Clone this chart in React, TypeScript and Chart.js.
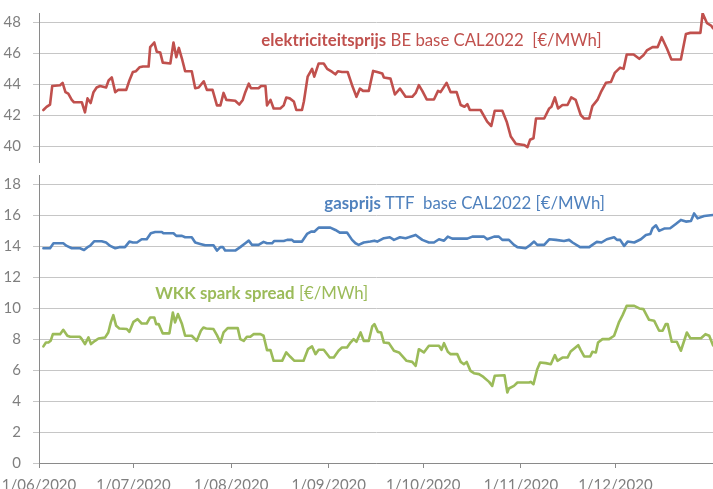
import React, { useEffect, useRef } from 'react';
import { Chart, registerables } from 'chart.js';

Chart.register(...registerables);

// ---- data (x = days since 1/06/2020) ----
const monthTicks = [0, 30, 61, 92, 122, 153, 183, 214];
const monthLabels = ['1/06/2020', '1/07/2020', '1/08/2020', '1/09/2020', '1/10/2020', '1/11/2020', '1/12/2020', ''];
const elecTicks = [40, 42, 44, 46, 48];
const lowerTicks = [0, 2, 4, 6, 8, 10, 12, 14, 16, 18];

const elecDays = [1.4, 2.4, 3.5, 4.2, 6.7, 7.5, 8.4, 9.3, 10.4, 11.1, 13.6, 14.6, 15.4, 16.4, 17.3, 18.3, 19.4, 21.3, 22.1, 23.1, 24.2, 25.2, 27.7, 28.7, 29.8, 30.8, 31.9, 33.0, 34.8, 35.3, 36.6, 37.4, 38.5, 39.3, 41.7, 42.7, 43.6, 44.4, 45.4, 46.4, 48.5, 49.6, 50.7, 52.3, 53.3, 55.1, 56.5, 57.6, 58.6, 59.5, 62.3, 63.6, 64.7, 65.5, 66.6, 67.3, 69.7, 70.5, 71.9, 72.4, 73.5, 74.5, 76.6, 77.7, 78.5, 79.6, 80.9, 81.7, 83.5, 84.1, 85.3, 86.7, 87.4, 88.8, 90.4, 91.5, 93.1, 94.1, 94.9, 96.2, 98.0, 99.4, 100.8, 101.9, 102.9, 104.7, 106.1, 107.4, 109.0, 109.5, 111.6, 113.0, 114.6, 116.4, 118.5, 119.6, 120.6, 121.7, 123.1, 125.4, 126.7, 127.5, 129.4, 130.7, 132.6, 133.9, 135.1, 136.0, 136.8, 140.2, 142.3, 143.6, 144.7, 147.1, 148.5, 149.8, 151.4, 154.0, 155.1, 155.9, 157.0, 157.8, 160.4, 162.0, 162.7, 163.8, 164.8, 166.2, 167.8, 169.0, 170.4, 172.0, 173.1, 174.7, 175.7, 177.3, 178.4, 180.0, 181.6, 182.8, 184.5, 185.6, 186.6, 188.8, 190.6, 191.9, 193.0, 194.8, 196.4, 197.7, 199.4, 200.8, 203.8, 205.4, 206.8, 210.0, 210.7, 212.1, 213.4, 214.0];
const elecValues = [42.35, 42.55, 42.7, 43.9, 43.95, 44.1, 43.5, 43.4, 43.0, 42.85, 42.85, 42.2, 43.1, 42.8, 43.5, 43.8, 43.9, 43.8, 44.25, 44.45, 43.5, 43.65, 43.65, 44.25, 44.8, 44.85, 45.1, 45.15, 45.15, 46.4, 46.7, 46.1, 46.05, 45.4, 45.35, 46.7, 45.75, 46.35, 45.65, 44.85, 44.85, 43.75, 43.8, 44.2, 43.65, 43.65, 42.65, 42.65, 43.45, 43.0, 42.95, 42.7, 43.0, 43.5, 44.05, 43.75, 43.75, 43.9, 43.9, 42.65, 43.0, 42.45, 42.45, 42.65, 43.15, 43.1, 42.9, 42.35, 42.35, 42.9, 44.5, 45.0, 44.5, 45.35, 45.35, 45.0, 44.8, 44.65, 44.85, 44.8, 44.8, 43.95, 43.2, 43.73, 43.58, 43.58, 44.87, 44.8, 44.7, 44.44, 44.37, 43.35, 43.73, 43.2, 43.2, 43.45, 43.95, 43.58, 43.03, 43.03, 43.58, 43.5, 44.1, 43.5, 43.5, 42.67, 42.56, 42.73, 42.35, 42.35, 41.6, 41.32, 42.3, 42.3, 41.6, 40.64, 40.17, 40.1, 39.96, 40.43, 40.53, 41.8, 41.8, 42.45, 42.56, 43.16, 42.45, 42.67, 42.67, 43.16, 43.0, 42.03, 41.8, 41.8, 42.6, 43.0, 43.5, 44.1, 44.16, 44.74, 45.08, 45.0, 45.93, 45.93, 45.65, 45.87, 46.19, 46.4, 46.4, 47.04, 46.3, 45.6, 45.6, 47.25, 47.32, 47.32, 48.58, 47.94, 47.79, 47.62];

const gasDays = [1.4, 3.5, 4.0, 4.6, 7.7, 8.8, 10.4, 13.0, 14.3, 15.4, 16.2, 17.5, 19.9, 21.3, 22.6, 24.2, 25.5, 27.3, 28.7, 29.8, 31.1, 32.6, 34.2, 35.5, 36.9, 39.0, 39.5, 42.7, 43.6, 45.4, 46.4, 48.5, 49.6, 51.2, 52.8, 55.4, 56.5, 57.6, 58.4, 59.1, 62.3, 63.9, 65.5, 66.6, 67.6, 69.7, 71.3, 72.4, 74.0, 74.7, 77.7, 78.8, 80.3, 80.9, 83.5, 85.1, 86.4, 87.4, 88.8, 92.5, 94.1, 95.5, 97.8, 99.4, 100.5, 101.5, 103.1, 105.2, 106.5, 107.4, 109.5, 111.4, 112.7, 114.6, 116.4, 117.4, 119.6, 121.7, 123.8, 125.4, 127.0, 128.6, 129.8, 131.2, 136.0, 137.6, 141.3, 142.3, 144.5, 146.0, 147.1, 149.2, 150.8, 151.9, 154.5, 155.6, 157.2, 158.2, 160.4, 162.0, 164.1, 166.7, 168.3, 169.4, 171.8, 174.7, 175.7, 177.1, 178.6, 180.3, 182.6, 183.5, 184.5, 185.8, 186.9, 189.0, 191.1, 192.7, 194.1, 194.8, 195.9, 196.9, 198.5, 200.4, 202.2, 203.8, 205.4, 207.0, 208.0, 209.1, 211.2, 214.0];
const gasValues = [13.87, 13.87, 14.02, 14.19, 14.19, 14.02, 13.87, 13.87, 13.76, 13.94, 14.02, 14.32, 14.32, 14.24, 14.02, 13.87, 13.94, 13.94, 14.3, 14.24, 14.24, 14.45, 14.45, 14.84, 14.92, 14.92, 14.84, 14.84, 14.67, 14.67, 14.58, 14.58, 14.24, 14.15, 14.06, 14.06, 13.72, 13.94, 13.94, 13.72, 13.72, 13.94, 14.19, 14.36, 14.09, 14.09, 14.28, 14.19, 14.19, 14.34, 14.34, 14.41, 14.41, 14.3, 14.3, 14.79, 14.94, 14.94, 15.2, 15.2, 15.05, 14.88, 14.88, 14.41, 14.19, 14.09, 14.24, 14.3, 14.36, 14.3, 14.52, 14.58, 14.41, 14.58, 14.52, 14.58, 14.73, 14.41, 14.24, 14.24, 14.45, 14.36, 14.62, 14.49, 14.49, 14.62, 14.62, 14.45, 14.62, 14.62, 14.41, 14.41, 14.09, 13.94, 13.87, 14.02, 14.3, 14.09, 14.09, 14.45, 14.41, 14.34, 14.41, 14.24, 13.94, 13.94, 14.09, 14.28, 14.24, 14.45, 14.58, 14.41, 14.41, 14.02, 14.3, 14.24, 14.45, 14.73, 14.79, 15.16, 15.35, 14.99, 15.14, 15.16, 15.44, 15.7, 15.59, 15.63, 16.12, 15.8, 15.95, 16.02];

const wkkDays = [1.4, 2.2, 3.0, 3.7, 4.4, 6.7, 7.7, 9.0, 9.9, 13.0, 13.6, 14.6, 15.7, 16.5, 17.8, 18.9, 21.0, 22.0, 22.8, 23.6, 24.5, 25.5, 27.9, 28.7, 30.0, 31.3, 32.6, 34.2, 35.3, 36.6, 37.2, 38.0, 39.3, 41.4, 42.5, 43.2, 44.1, 45.4, 46.4, 48.5, 50.1, 51.4, 52.2, 53.1, 55.4, 56.5, 57.6, 58.6, 59.9, 63.1, 63.9, 65.0, 66.0, 67.1, 68.1, 70.3, 71.3, 72.4, 73.5, 74.5, 77.2, 78.5, 79.8, 81.1, 84.0, 85.4, 86.7, 87.8, 88.8, 90.4, 92.3, 93.6, 95.1, 96.2, 97.8, 98.9, 99.9, 100.8, 102.1, 103.1, 104.7, 105.8, 106.5, 107.6, 108.6, 109.5, 111.1, 112.7, 114.3, 115.3, 116.7, 118.5, 119.6, 120.6, 122.2, 123.8, 127.0, 127.8, 128.6, 129.8, 130.7, 132.8, 133.9, 134.9, 135.8, 137.0, 138.1, 139.7, 141.1, 142.9, 143.9, 144.7, 147.8, 148.7, 149.2, 150.8, 151.9, 155.6, 156.1, 157.0, 158.2, 159.1, 160.9, 162.5, 163.8, 164.6, 166.2, 167.8, 168.8, 171.2, 172.0, 173.1, 175.0, 175.7, 176.8, 177.5, 178.9, 181.0, 182.6, 184.2, 185.3, 186.6, 189.0, 190.6, 191.9, 193.7, 195.3, 196.9, 198.0, 199.0, 199.6, 200.9, 202.5, 203.8, 205.7, 206.8, 210.2, 211.6, 212.8, 214.0];
const wkkValues = [7.53, 7.78, 7.78, 7.89, 8.32, 8.32, 8.6, 8.22, 8.15, 8.15, 8.0, 7.68, 8.11, 7.68, 7.89, 8.04, 8.11, 8.43, 9.08, 9.55, 8.86, 8.69, 8.65, 8.47, 9.12, 9.29, 9.01, 9.01, 9.4, 9.4, 8.97, 8.97, 8.37, 8.37, 9.72, 9.08, 9.62, 8.97, 8.22, 8.22, 7.89, 8.54, 8.75, 8.69, 8.65, 8.26, 7.78, 8.43, 8.71, 8.71, 8.0, 7.89, 8.15, 8.15, 8.32, 8.32, 8.22, 7.29, 7.29, 6.6, 6.6, 7.14, 6.86, 6.6, 6.6, 7.35, 7.53, 7.03, 7.31, 7.31, 6.81, 6.81, 7.25, 7.46, 7.46, 7.78, 8.0, 7.83, 8.43, 7.89, 7.89, 8.82, 8.97, 8.47, 8.43, 7.78, 7.74, 7.25, 7.14, 6.92, 6.6, 6.53, 6.28, 7.35, 7.14, 7.57, 7.57, 7.31, 7.74, 7.18, 7.03, 7.03, 6.53, 6.38, 6.53, 5.95, 5.8, 5.74, 5.56, 5.24, 4.98, 5.63, 5.67, 4.55, 4.81, 4.98, 5.2, 5.2, 5.24, 5.09, 6.06, 6.49, 6.45, 6.38, 6.97, 6.6, 6.81, 6.81, 7.2, 7.61, 7.29, 6.88, 6.88, 7.18, 7.14, 7.78, 8.0, 8.0, 8.22, 9.12, 9.55, 10.15, 10.15, 9.98, 9.94, 9.25, 9.19, 8.54, 8.54, 8.97, 8.97, 7.83, 7.83, 7.25, 8.43, 8.06, 8.06, 8.32, 8.22, 7.6];

// ---- styling ----
const FONT = 'Lato, "Open Sans", sans-serif';
const RED = '#C0504D';
const BLUE = '#4F81BD';
const GREEN = '#9BBB59';
const GRID = '#c6c6c6';
const AXIS = '#8a8a8a';
const TICK_TEXT = '#7f7f7f';

type Part = { text: string; bold?: boolean };
type Label = { x: number; y: number; color: string; parts: Part[] };

const labelPlugin = {
  id: 'seriesLabels',
  afterDatasetsDraw(chart: any, _args: any, opts: any) {
    const items: Label[] = (opts && opts.items) || [];
    const ctx = chart.ctx;
    ctx.save();
    for (const it of items) {
      let cx = chart.scales.x.getPixelForValue(it.x);
      const cy = chart.scales.y.getPixelForValue(it.y);
      ctx.fillStyle = it.color;
      ctx.textBaseline = 'middle';
      ctx.textAlign = 'left';
      for (const p of it.parts) {
        ctx.font = `${p.bold ? 'bold ' : ''}16.8px ${FONT}`;
        ctx.fillText(p.text, cx, cy);
        cx += ctx.measureText(p.text).width;
      }
    }
    ctx.restore();
  },
};

const toPoints = (xs: number[], ys: number[]) => xs.map((x, i) => ({ x, y: ys[i] }));

const lineDs = (label: string, xs: number[], ys: number[], color: string) => ({
  label,
  data: toPoints(xs, ys),
  borderColor: color,
  backgroundColor: color,
  borderWidth: 2.6,
  pointRadius: 0,
  tension: 0,
  borderJoinStyle: 'round' as const,
  borderCapStyle: 'round' as const,
});

const yAxis = (min: number, max: number, ticks: number[]) => ({
  type: 'linear' as const,
  min,
  max,
  afterBuildTicks: (scale: any) => {
    scale.ticks = ticks.map((v) => ({ value: v }));
  },
  afterFit: (scale: any) => {
    scale.width = 39;
    scale.paddingTop = 0;
    scale.paddingBottom = 0;
  },
  grid: { color: GRID, lineWidth: 1, tickLength: 6, tickColor: GRID },
  border: { color: AXIS, width: 1 },
  ticks: {
    padding: 12,
    color: TICK_TEXT,
    font: { family: FONT, size: 15 },
  },
});

export default function App() {
  const topRef = useRef<HTMLCanvasElement>(null);
  const botRef = useRef<HTMLCanvasElement>(null);

  useEffect(() => {
    document.body.style.margin = '0';
    const top = new Chart(topRef.current as HTMLCanvasElement, {
      type: 'line',
      data: { datasets: [lineDs('elektriciteitsprijs', elecDays, elecValues, RED)] },
      plugins: [labelPlugin],
      options: {
        responsive: false,
        animation: false,
        layout: { padding: { top: 13, bottom: 13, left: 0, right: -3 } },
        scales: {
          x: {
            type: 'linear',
            min: 0,
            max: 214,
            display: false,
            afterFit: (scale: any) => {
              scale.paddingLeft = 0;
              scale.paddingRight = 0;
            },
          },
          y: yAxis(39, 48.6, elecTicks),
        },
        plugins: {
          legend: { display: false },
          tooltip: { enabled: false },
          seriesLabels: {
            items: [
              {
                x: 70.6,
                y: 46.83,
                color: RED,
                parts: [{ text: 'elektriciteitsprijs', bold: true }, { text: ' BE base CAL2022  [€/MWh]' }],
              },
            ],
          },
        } as any,
      },
    });

    const bottom = new Chart(botRef.current as HTMLCanvasElement, {
      type: 'line',
      data: {
        datasets: [
          lineDs('gasprijs', gasDays, gasValues, BLUE),
          lineDs('WKK spark spread', wkkDays, wkkValues, GREEN),
        ],
      },
      plugins: [labelPlugin],
      options: {
        responsive: false,
        animation: false,
        layout: { padding: { top: 15, bottom: 0, left: 0, right: -3 } },
        scales: {
          x: {
            type: 'linear',
            min: 0,
            max: 214,
            afterBuildTicks: (scale: any) => {
              scale.ticks = monthTicks.map((v) => ({ value: v }));
            },
            afterFit: (scale: any) => {
              scale.paddingLeft = 0;
              scale.paddingRight = 0;
            },
            grid: { drawOnChartArea: false, drawTicks: true, tickLength: 5, tickColor: AXIS, color: AXIS },
            border: { color: AXIS, width: 1 },
            ticks: {
              autoSkip: false,
              maxRotation: 0,
              minRotation: 0,
              padding: 8,
              color: TICK_TEXT,
              font: { family: FONT, size: 15 },
              callback: (v: any) => {
                const i = monthTicks.indexOf(Number(v));
                return i >= 0 ? monthLabels[i] : '';
              },
            },
          },
          y: yAxis(0, 18.6, lowerTicks),
        },
        plugins: {
          legend: { display: false },
          tooltip: { enabled: false },
          seriesLabels: {
            items: [
              {
                x: 90.6,
                y: 16.77,
                color: BLUE,
                parts: [{ text: 'gasprijs', bold: true }, { text: ' TTF  base CAL2022 [€/MWh]' }],
              },
              {
                x: 36.9,
                y: 10.97,
                color: GREEN,
                parts: [{ text: 'WKK spark spread', bold: true }, { text: ' [€/MWh]' }],
              },
            ],
          },
        } as any,
      },
    });

    return () => {
      top.destroy();
      bottom.destroy();
    };
  }, []);

  return (
    <div
      style={{
        position: 'fixed',
        left: 0,
        top: 0,
        width: 713,
        height: 489,
        overflow: 'hidden',
        background: '#ffffff',
      }}
    >
      <canvas ref={topRef} width={713} height={175} style={{ position: 'absolute', left: 0, top: 0 }} />
      <canvas ref={botRef} width={713} height={342} style={{ position: 'absolute', left: 0, top: 160 }} />
    </div>
  );
}
